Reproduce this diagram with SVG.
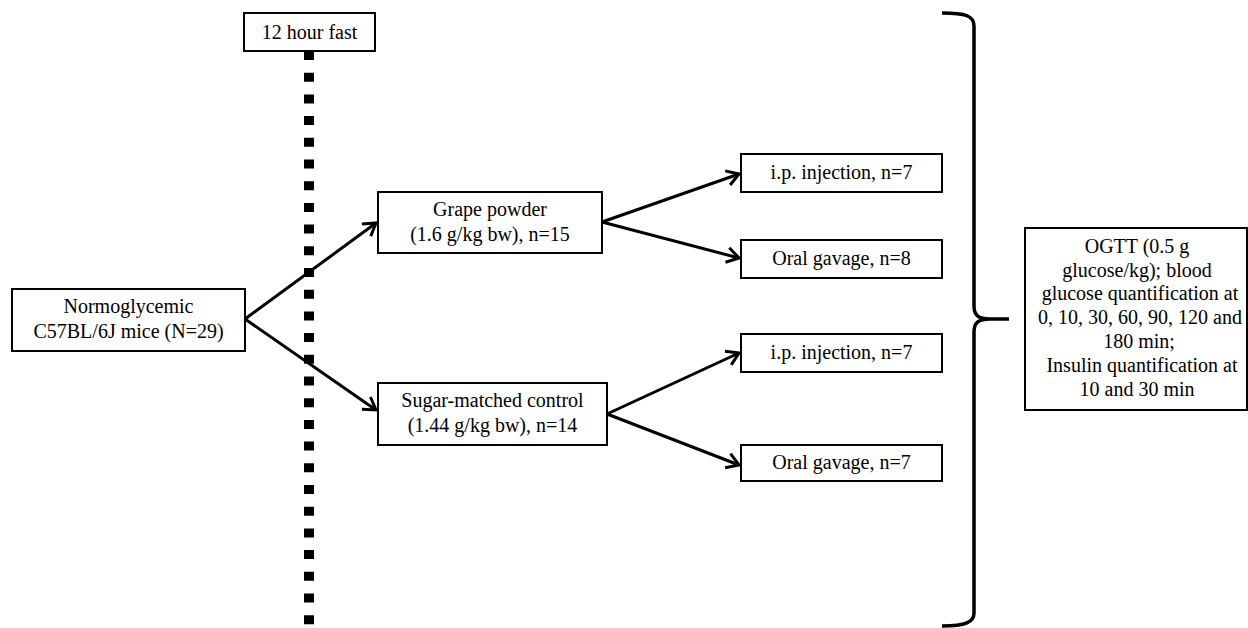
<svg xmlns="http://www.w3.org/2000/svg" width="1248" height="628" viewBox="0 0 1248 628">
<style>
.box{fill:#fff;stroke:#000;stroke-width:2}
.t{font-family:"Liberation Serif","Times New Roman",serif;font-size:20px;fill:#000;text-anchor:middle}
.arr{stroke:#000;stroke-width:3;fill:none;marker-end:url(#ah)}
</style>
<defs>
<marker id="ah" markerUnits="userSpaceOnUse" markerWidth="30" markerHeight="30" viewBox="-15 -15 30 30" refX="0" refY="0" orient="auto">
<path d="M -12 -7.5 L 0 0 L -12 7.5" fill="none" stroke="#000" stroke-width="3" stroke-linejoin="miter"/>
</marker>
</defs>
<rect width="1248" height="628" fill="#fff"/>
<line id="fast-line" x1="309" y1="51" x2="309" y2="628" stroke="#000" stroke-width="10" stroke-dasharray="9 12.7"/>
<g id="connectors">
<line class="arr" x1="245" y1="319" x2="376" y2="223"/>
<line class="arr" x1="245" y1="319" x2="376" y2="410"/>
<line class="arr" x1="602" y1="222" x2="739" y2="174"/>
<line class="arr" x1="602" y1="222" x2="739" y2="258"/>
<line class="arr" x1="607" y1="414" x2="739" y2="353"/>
<line class="arr" x1="607" y1="414" x2="739" y2="465"/>
<path d="M 942 13 C 966 13 974 16 974 26 L 974 306 C 974 315 978 319 990 319 L 1009 319 M 990 319 C 978 319 974 323 974 332 L 974 613 C 974 622 966 626 942 626" fill="none" stroke="#000" stroke-width="3.5"/>
</g>
<g id="fast"><rect class="box" x="244" y="13" width="131" height="38"/><text class="t" x="309.5" y="39">12 hour fast</text></g>
<g id="mice"><rect class="box" x="12" y="289" width="233" height="62"/><text class="t" x="128.5" y="313">Normoglycemic</text><text class="t" x="128.5" y="338">C57BL/6J mice (N=29)</text></g>
<g id="grape"><rect class="box" x="378" y="192" width="224" height="61"/><text class="t" x="490" y="216">Grape powder</text><text class="t" x="490" y="241">(1.6 g/kg bw), n=15</text></g>
<g id="sugar"><rect class="box" x="378" y="383" width="229" height="62"/><text class="t" x="492.5" y="407">Sugar-matched control</text><text class="t" x="492.5" y="432">(1.44 g/kg bw), n=14</text></g>
<g id="grape-ip"><rect class="box" x="741" y="154" width="201" height="38"/><text class="t" x="841.5" y="179">i.p. injection, n=7</text></g>
<g id="grape-oral"><rect class="box" x="741" y="240" width="201" height="38"/><text class="t" x="841.5" y="265">Oral gavage, n=8</text></g>
<g id="sugar-ip"><rect class="box" x="741" y="334" width="201" height="38"/><text class="t" x="841.5" y="359">i.p. injection, n=7</text></g>
<g id="sugar-oral"><rect class="box" x="741" y="445" width="201" height="36"/><text class="t" x="841.5" y="469">Oral gavage, n=7</text></g>
<g id="ogtt"><rect class="box" x="1025" y="228" width="222" height="182"/>
<text class="t" x="1137" y="253">OGTT (0.5 g</text>
<text class="t" x="1137" y="277">glucose/kg); blood</text>
<text class="t" x="1140" y="300">glucose quantification at</text>
<text class="t" x="1140" y="324">0, 10, 30, 60, 90, 120 and</text>
<text class="t" x="1139" y="348">180 min;</text>
<text class="t" x="1142" y="372">Insulin quantification at</text>
<text class="t" x="1137" y="396">10 and 30 min</text>
</g>
</svg>
